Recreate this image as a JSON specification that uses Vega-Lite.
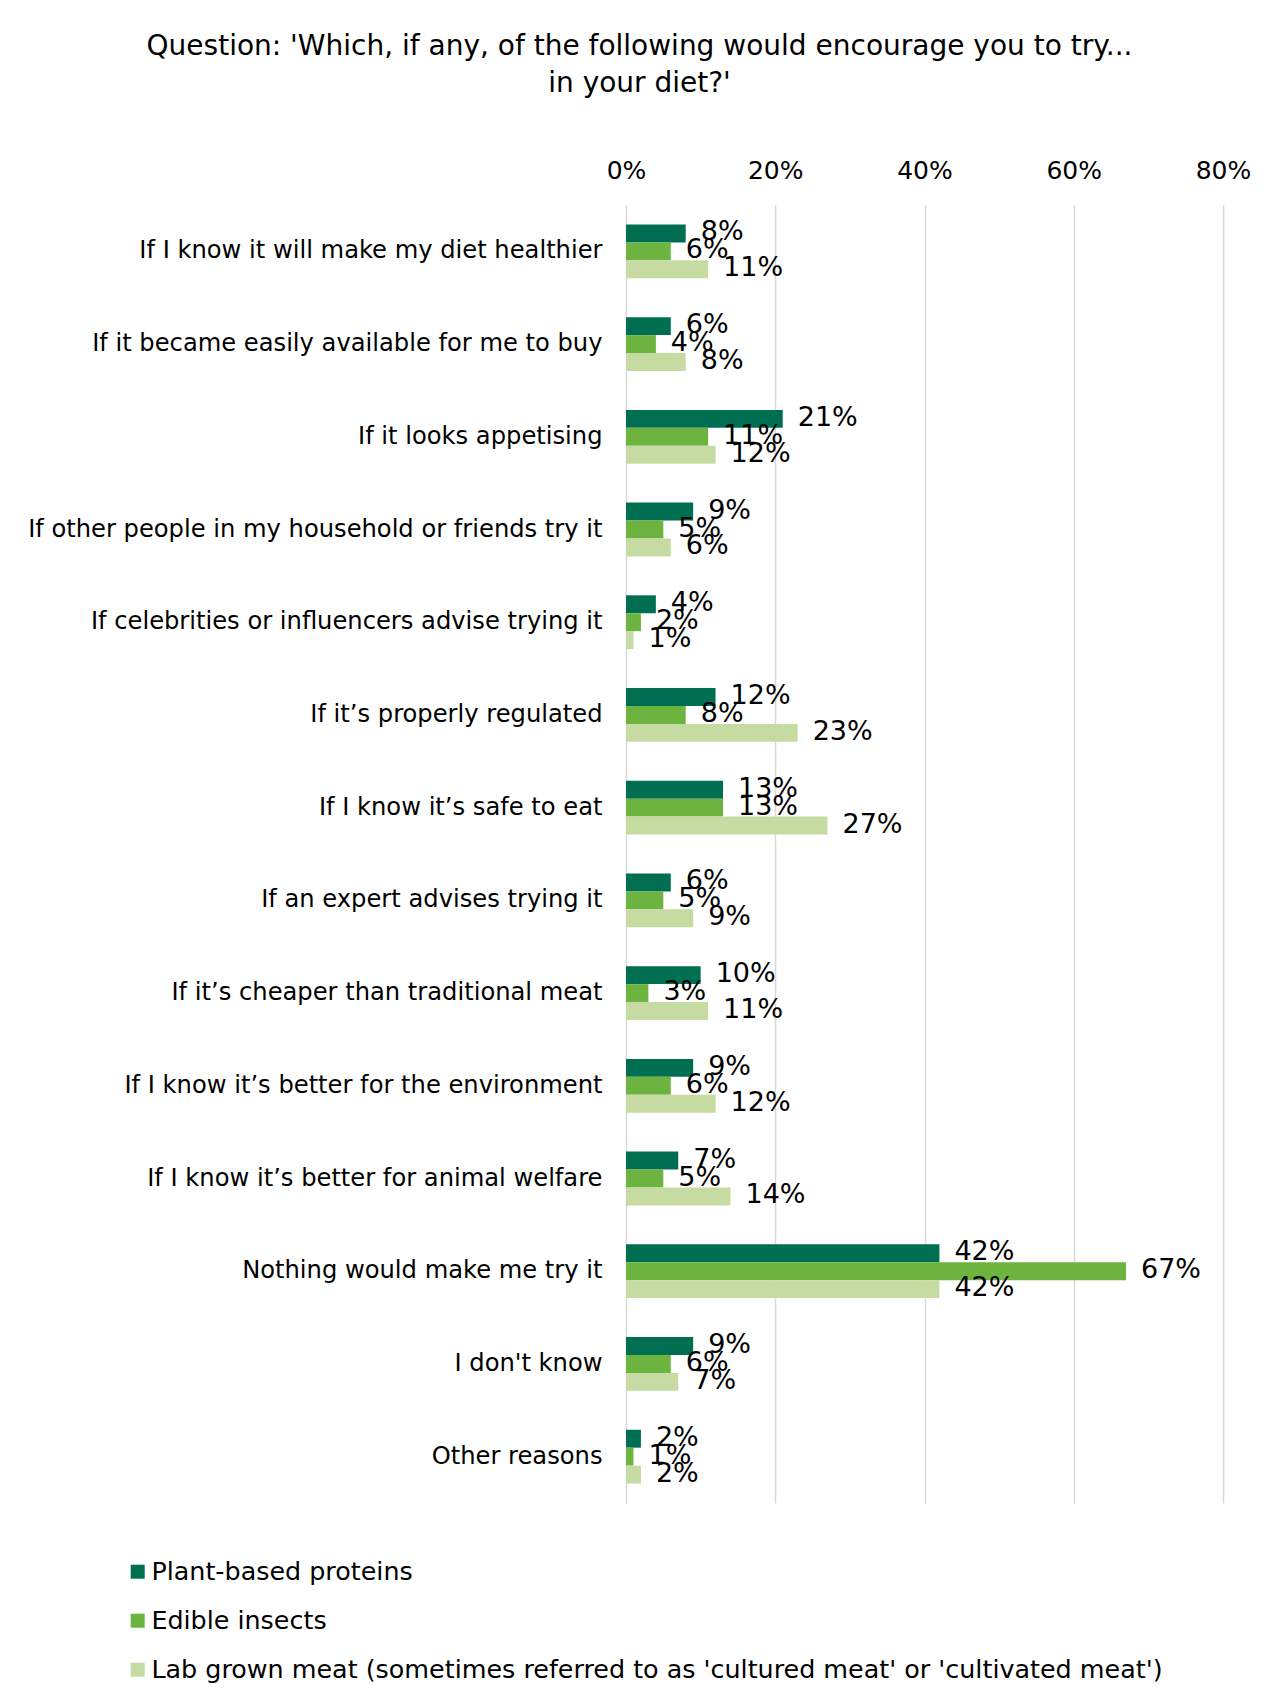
{
  "$schema": "https://vega.github.io/schema/vega-lite/v6.json",
  "autosize": {"type": "none"},
  "width": 597,
  "height": 1298,
  "padding": {"left": 626, "top": 205, "right": 49, "bottom": 194},
  "background": "white",
  "title": {
    "text": ["Question: 'Which, if any, of the following would encourage you to try...", "in your diet?'"],
    "anchor": "middle",
    "frame": "group",
    "dx": -285,
    "offset": 60,
    "fontSize": 28,
    "fontWeight": "normal",
    "font": "DejaVu Sans",
    "color": "#000000",
    "lineHeight": 37
  },
  "config": {
    "font": "DejaVu Sans",
    "view": {"stroke": null},
    "axis": {"labelFont": "DejaVu Sans", "labelColor": "#000000"}
  },
  "data": {
    "values": [
      {"reason": "If I know it will make my diet healthier", "series": "Plant-based proteins", "v": 0.08},
      {"reason": "If I know it will make my diet healthier", "series": "Edible insects", "v": 0.06},
      {"reason": "If I know it will make my diet healthier", "series": "Lab grown meat (sometimes referred to as 'cultured meat' or 'cultivated meat')", "v": 0.11},
      {"reason": "If it became easily available for me to buy", "series": "Plant-based proteins", "v": 0.06},
      {"reason": "If it became easily available for me to buy", "series": "Edible insects", "v": 0.04},
      {"reason": "If it became easily available for me to buy", "series": "Lab grown meat (sometimes referred to as 'cultured meat' or 'cultivated meat')", "v": 0.08},
      {"reason": "If it looks appetising", "series": "Plant-based proteins", "v": 0.21},
      {"reason": "If it looks appetising", "series": "Edible insects", "v": 0.11},
      {"reason": "If it looks appetising", "series": "Lab grown meat (sometimes referred to as 'cultured meat' or 'cultivated meat')", "v": 0.12},
      {"reason": "If other people in my household or friends try it", "series": "Plant-based proteins", "v": 0.09},
      {"reason": "If other people in my household or friends try it", "series": "Edible insects", "v": 0.05},
      {"reason": "If other people in my household or friends try it", "series": "Lab grown meat (sometimes referred to as 'cultured meat' or 'cultivated meat')", "v": 0.06},
      {"reason": "If celebrities or influencers advise trying it", "series": "Plant-based proteins", "v": 0.04},
      {"reason": "If celebrities or influencers advise trying it", "series": "Edible insects", "v": 0.02},
      {"reason": "If celebrities or influencers advise trying it", "series": "Lab grown meat (sometimes referred to as 'cultured meat' or 'cultivated meat')", "v": 0.01},
      {"reason": "If it’s properly regulated", "series": "Plant-based proteins", "v": 0.12},
      {"reason": "If it’s properly regulated", "series": "Edible insects", "v": 0.08},
      {"reason": "If it’s properly regulated", "series": "Lab grown meat (sometimes referred to as 'cultured meat' or 'cultivated meat')", "v": 0.23},
      {"reason": "If I know it’s safe to eat", "series": "Plant-based proteins", "v": 0.13},
      {"reason": "If I know it’s safe to eat", "series": "Edible insects", "v": 0.13},
      {"reason": "If I know it’s safe to eat", "series": "Lab grown meat (sometimes referred to as 'cultured meat' or 'cultivated meat')", "v": 0.27},
      {"reason": "If an expert advises trying it", "series": "Plant-based proteins", "v": 0.06},
      {"reason": "If an expert advises trying it", "series": "Edible insects", "v": 0.05},
      {"reason": "If an expert advises trying it", "series": "Lab grown meat (sometimes referred to as 'cultured meat' or 'cultivated meat')", "v": 0.09},
      {"reason": "If it’s cheaper than traditional meat", "series": "Plant-based proteins", "v": 0.10},
      {"reason": "If it’s cheaper than traditional meat", "series": "Edible insects", "v": 0.03},
      {"reason": "If it’s cheaper than traditional meat", "series": "Lab grown meat (sometimes referred to as 'cultured meat' or 'cultivated meat')", "v": 0.11},
      {"reason": "If I know it’s better for the environment", "series": "Plant-based proteins", "v": 0.09},
      {"reason": "If I know it’s better for the environment", "series": "Edible insects", "v": 0.06},
      {"reason": "If I know it’s better for the environment", "series": "Lab grown meat (sometimes referred to as 'cultured meat' or 'cultivated meat')", "v": 0.12},
      {"reason": "If I know it’s better for animal welfare", "series": "Plant-based proteins", "v": 0.07},
      {"reason": "If I know it’s better for animal welfare", "series": "Edible insects", "v": 0.05},
      {"reason": "If I know it’s better for animal welfare", "series": "Lab grown meat (sometimes referred to as 'cultured meat' or 'cultivated meat')", "v": 0.14},
      {"reason": "Nothing would make me try it", "series": "Plant-based proteins", "v": 0.42},
      {"reason": "Nothing would make me try it", "series": "Edible insects", "v": 0.67},
      {"reason": "Nothing would make me try it", "series": "Lab grown meat (sometimes referred to as 'cultured meat' or 'cultivated meat')", "v": 0.42},
      {"reason": "I don't know", "series": "Plant-based proteins", "v": 0.09},
      {"reason": "I don't know", "series": "Edible insects", "v": 0.06},
      {"reason": "I don't know", "series": "Lab grown meat (sometimes referred to as 'cultured meat' or 'cultivated meat')", "v": 0.07},
      {"reason": "Other reasons", "series": "Plant-based proteins", "v": 0.02},
      {"reason": "Other reasons", "series": "Edible insects", "v": 0.01},
      {"reason": "Other reasons", "series": "Lab grown meat (sometimes referred to as 'cultured meat' or 'cultivated meat')", "v": 0.02}
    ]
  },
  "encoding": {
    "y": {
      "field": "reason",
      "type": "nominal",
      "sort": null,
      "scale": {"paddingInner": 0.42, "paddingOuter": 0.21},
      "axis": {
        "title": null,
        "ticks": false,
        "domain": false,
        "labelFontSize": 24.2,
        "labelPadding": 24,
        "labelLimit": 700
      }
    },
    "yOffset": {
      "field": "series",
      "type": "nominal",
      "sort": ["Plant-based proteins", "Edible insects", "Lab grown meat (sometimes referred to as 'cultured meat' or 'cultivated meat')"],
      "scale": {"paddingInner": 0, "paddingOuter": 0}
    },
    "x": {
      "field": "v",
      "type": "quantitative",
      "scale": {"domain": [0, 0.8], "nice": false},
      "axis": {
        "orient": "top",
        "title": null,
        "format": ".0%",
        "values": [0, 0.2, 0.4, 0.6, 0.8],
        "ticks": false,
        "domain": false,
        "labelFlush": false,
        "labelFontSize": 25,
        "labelPadding": 22,
        "grid": true,
        "gridColor": "#D9D9D9",
        "gridWidth": 1.5
      }
    }
  },
  "layer": [
    {
      "mark": {"type": "bar"},
      "encoding": {
        "color": {
          "field": "series",
          "type": "nominal",
          "scale": {
            "domain": ["Plant-based proteins", "Edible insects", "Lab grown meat (sometimes referred to as 'cultured meat' or 'cultivated meat')"],
            "range": ["#006E50", "#6DB33F", "#C5DBA2"]
          },
          "legend": {
            "title": null,
            "orient": "none",
            "legendX": -501,
            "legendY": 1354,
            "direction": "vertical",
            "symbolType": "square",
            "symbolSize": 196,
            "symbolStrokeWidth": 0,
            "labelFontSize": 25.4,
            "labelFont": "DejaVu Sans",
            "labelColor": "#000000",
            "labelLimit": 1200,
            "labelOffset": 1,
            "rowPadding": 22
          }
        }
      }
    },
    {
      "mark": {"type": "text", "align": "left", "baseline": "middle", "dx": 15, "dy": -1, "fontSize": 27, "font": "DejaVu Sans", "color": "#000000"},
      "encoding": {
        "text": {"field": "v", "type": "quantitative", "format": ".0%"}
      }
    }
  ]
}
